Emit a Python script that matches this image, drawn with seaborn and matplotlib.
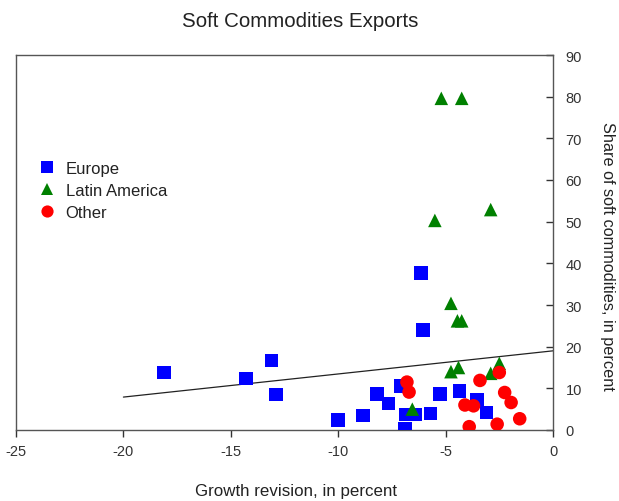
import numpy as np
import pandas as pd
import matplotlib
matplotlib.use("Agg")
import matplotlib.pyplot as plt
import seaborn as sns

# ---- data ----
europe_x = [-18.1, -14.3, -13.1, -12.9, -10.0, -8.85, -8.2, -7.65, -7.1, -6.9,
            -6.85, -6.4, -5.7, -5.25, -6.15, -6.05, -4.35, -3.55, -3.1]
europe_y = [13.8, 12.4, 16.7, 8.5, 2.4, 3.5, 8.6, 6.4, 10.6, 0.3,
            3.7, 3.7, 4.0, 8.6, 37.7, 24.0, 9.4, 7.2, 4.2]

latam_x = [-5.2, -4.25, -5.5, -2.9, -4.75, -4.45, -4.25, -4.75, -4.4, -2.9, -2.5, -6.55]
latam_y = [79.6, 79.6, 50.3, 52.9, 30.4, 26.2, 26.2, 14.0, 15.0, 13.6, 16.0, 5.0]

other_x = [-6.8, -6.7, -3.4, -2.5, -2.25, -1.95, -1.55, -4.1, -3.7, -3.9, -2.6]
other_y = [11.5, 9.1, 11.9, 13.8, 9.0, 6.6, 2.7, 6.0, 5.8, 0.8, 1.4]

trend_x = [-20, 0]
trend_y = [7.9, 19.0]

groups = ["Europe", "Latin America", "Other"]
colors = {"Europe": "#0000FF", "Latin America": "#008000", "Other": "#FF0000"}
markers = {"Europe": "s", "Latin America": "^", "Other": "o"}

df = pd.DataFrame({
    "x": europe_x + latam_x + other_x,
    "y": europe_y + latam_y + other_y,
    "region": ["Europe"] * len(europe_x) + ["Latin America"] * len(latam_x)
              + ["Other"] * len(other_x),
})

sns.set_style("white")
plt.rcParams["font.family"] = ["Liberation Sans", "DejaVu Sans"]
plt.rcParams["axes.unicode_minus"] = False

fig = plt.figure(figsize=(6.19, 5.02), dpi=100)
ax = fig.add_axes([16 / 619, 1 - 431 / 502, 537 / 619, 375 / 502])

ax.plot(trend_x, trend_y, color="#222222", lw=0.9, zorder=1)

sns.scatterplot(data=df, x="x", y="y", hue="region", style="region",
                hue_order=groups, style_order=groups,
                palette=colors, markers=markers, s=95, linewidth=0,
                ax=ax, zorder=3)

ax.set_xlim(-25, 0)
ax.set_ylim(0, 90)
ax.set_xticks(np.arange(-25, 1, 5))
ax.set_yticks(np.arange(0, 91, 10))

ax.yaxis.tick_right()
ax.yaxis.set_label_position("right")
ax.tick_params(axis="x", direction="out", length=5, width=1, pad=5,
               labelsize=10.5, colors="#333333", bottom=True)
ax.tick_params(axis="y", direction="in", length=5, width=1, pad=9,
               labelsize=10.5, colors="#333333", right=True, left=False)
for s in ax.spines.values():
    s.set_visible(True)
    s.set_color("#555555")
    s.set_linewidth(1.0)

ax.set_xlabel("Growth revision, in percent", fontsize=12.2, color="#222222")
ax.xaxis.set_label_coords((296 - 16) / 537, (431 - 484) / 375)
ax.set_ylabel("Share of soft commodities, in percent", fontsize=11.7,
              color="#222222", rotation=270, va="center", ha="center")
ax.yaxis.set_label_coords((608 - 16) / 537, (431 - 256) / 375)

ax.set_title("Soft Commodities Exports", fontsize=14.8, color="#222222",
             x=(300 - 16) / 537, y=(431 - 27) / 375, pad=0)

handles, labels = ax.get_legend_handles_labels()
leg = ax.legend(handles, labels, loc="upper left",
                bbox_to_anchor=(8 / 537, (431 - 155) / 375),
                frameon=False, fontsize=12, handletextpad=0.1,
                labelspacing=0.42, markerscale=0.9, borderaxespad=0)
for t in leg.get_texts():
    t.set_color("#222222")

fig.savefig("out.png", dpi=100)
